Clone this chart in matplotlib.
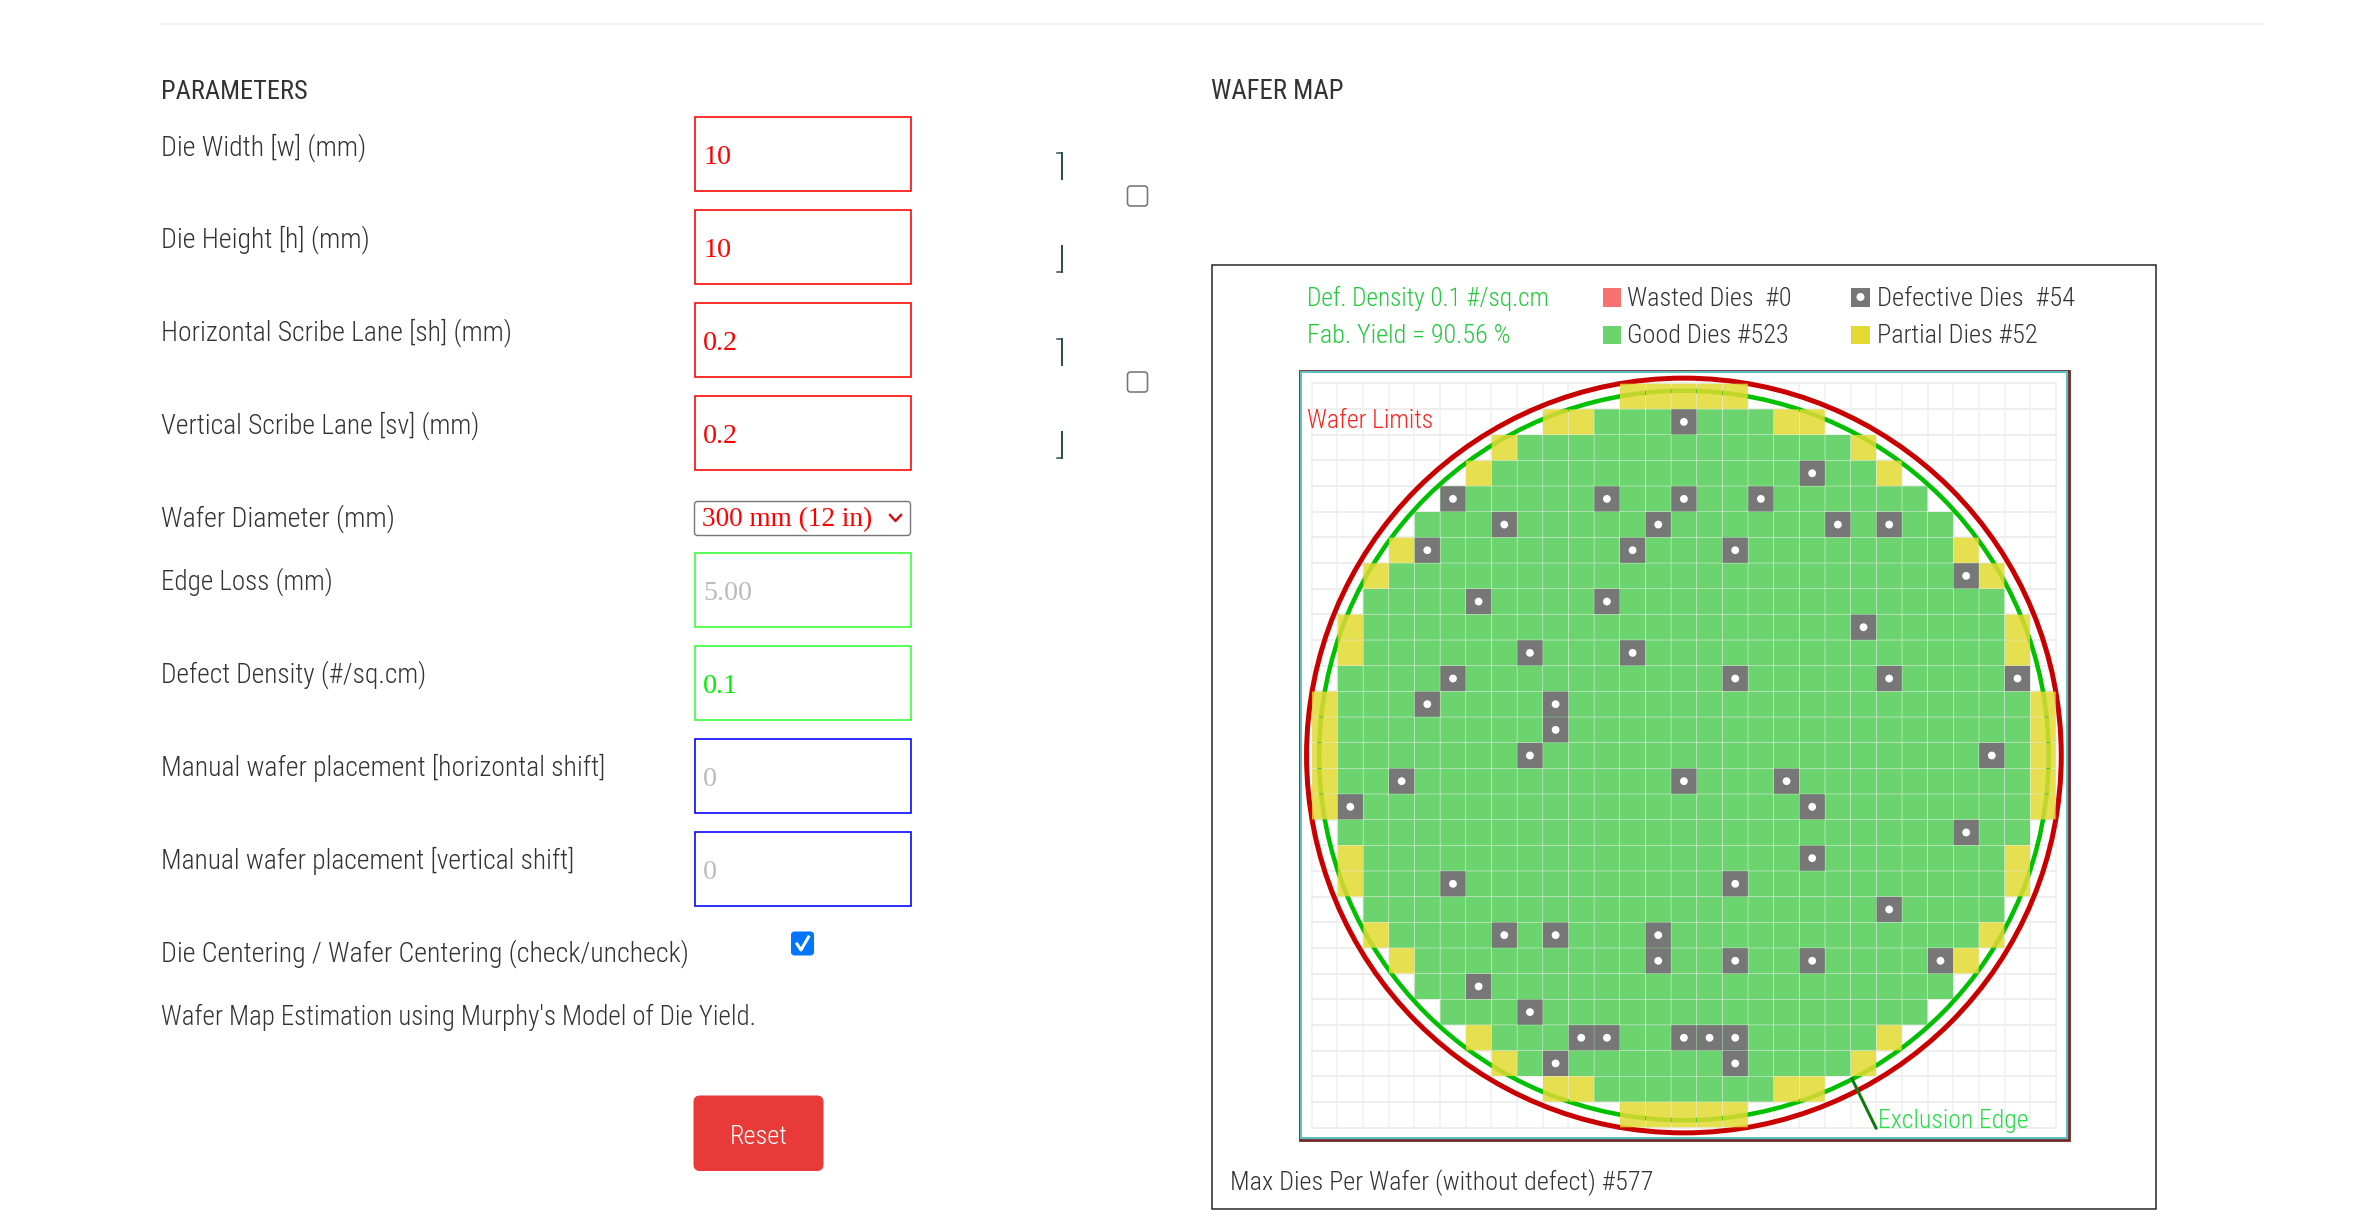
import matplotlib
matplotlib.use("Agg")
import matplotlib.pyplot as plt
from matplotlib.patches import Rectangle, Circle, FancyBboxPatch
from matplotlib.font_manager import fontManager

# ---- data ----
die_w = 10.0
die_h = 10.0
scribe = 0.2
wafer_d = 300
edge_loss = 5
pitch_x = die_w + scribe
pitch_y = die_h + scribe
n_grid = 29

good_first = [14, 11, 8, 7, 5, 4, 4, 3, 2, 2, 2, 1, 1, 1, 1, 1, 1, 1, 2, 2, 2, 3, 4, 4, 5, 7, 8, 11, 14]
good_last  = [13, 17, 20, 21, 23, 24, 24, 25, 26, 26, 26, 27, 27, 27, 27, 27, 27, 27, 26, 26, 26, 25, 24, 24, 23, 21, 20, 17, 13]
partial_rows = [0, 0, 0, 0, 0, 1, 1, 1, 1, 2, 2, 3, 3, 6, 6, 7, 7, 9, 9, 10, 10, 12, 12, 13, 13, 14, 14,
                15, 15, 16, 16, 18, 18, 19, 19, 21, 21, 22, 22, 25, 25, 26, 26, 27, 27, 27, 27, 28, 28, 28, 28, 28]
partial_cols = [12, 13, 14, 15, 16, 9, 10, 18, 19, 7, 21, 6, 22, 3, 25, 2, 26, 1, 27, 1, 27, 0, 28, 0, 28, 0, 28,
                0, 28, 0, 28, 1, 27, 1, 27, 2, 26, 3, 25, 6, 22, 7, 21, 9, 10, 18, 19, 12, 13, 14, 15, 16]
defect_rows = [1, 3, 4, 4, 4, 4, 5, 5, 5, 5, 6, 6, 6, 7, 8, 8, 9, 10, 10, 11, 11, 11, 11, 12, 12, 13, 14, 14,
               15, 15, 15, 16, 16, 17, 18, 19, 19, 20, 21, 21, 21, 22, 22, 22, 22, 23, 24, 25, 25, 25, 25, 25, 26, 26]
defect_cols = [14, 19, 5, 11, 14, 17, 7, 13, 20, 22, 4, 12, 16, 25, 6, 11, 21, 8, 12, 5, 16, 22, 27, 4, 9, 9, 8, 26,
               3, 14, 18, 1, 19, 25, 19, 5, 16, 22, 7, 9, 13, 13, 16, 19, 24, 6, 8, 10, 11, 14, 15, 16, 9, 16]

param_labels = ["Die Width [w] (mm)", "Die Height [h] (mm)", "Horizontal Scribe Lane [sh] (mm)",
                "Vertical Scribe Lane [sv] (mm)", "Wafer Diameter (mm)", "Edge Loss (mm)",
                "Defect Density (#/sq.cm)", "Manual wafer placement [horizontal shift]",
                "Manual wafer placement [vertical shift]", "Die Centering / Wafer Centering (check/uncheck)",
                "Wafer Map Estimation using Murphy's Model of Die Yield."]
label_widths = [206, 209, 351, 319, 234, 172, 266, 444, 414, 528, 597]
label_base = [155.5, 248, 341, 434, 527, 590, 683, 776, 869, 962, 1025]
input_values = ["10", "10", "0.2", "0.2", "5.00", "0.1", "0", "0"]
input_top = [117, 210, 303, 396, 553, 646, 739, 832]
input_edge = ["#ff0000"] * 4 + ["#33ff33"] * 2 + ["#0000ff"] * 2
input_color = ["#ff0000"] * 4 + ["#bbbbbb", "#00ee00", "#bbbbbb", "#bbbbbb"]

# ---- fonts ----
names = {f.name for f in fontManager.ttflist}
preferred = ["Roboto Condensed", "Open Sans Condensed", "Noto Sans Condensed", "Liberation Sans Narrow",
             "Lato", "Roboto"]
SANS = next(n for n in preferred + ["DejaVu Sans"] if n in names)
SERIF = "Liberation Serif"

W, H = 2354, 1217
PX = 0.72
fig = plt.figure(figsize=(W / 100, H / 100), dpi=100, facecolor="white")
page = fig.add_axes([0, 0, 1, 1])
page.set_xlim(0, W)
page.set_ylim(H, 0)
page.axis("off")


def fit(x, y, s, width, color="#333333", weight="light", ax=page, ha="left"):
    t = ax.text(x, y, s, color=color, family=SANS, weight=weight, fontsize=14, ha=ha, va="baseline", zorder=20)
    r = fig.canvas.get_renderer()
    t.set_fontsize(14 * width / t.get_window_extent(r).width)
    return t


def rbox(x0, y0, x1, y1, fc, ec, lw=1.0, rad=3):
    page.add_patch(FancyBboxPatch((x0 + rad, y0 + rad), x1 - x0 - 2 * rad, y1 - y0 - 2 * rad,
                                  boxstyle=f"round,pad={rad},rounding_size={rad}", fc=fc, ec=ec, lw=lw * PX))


# top rule and headings
page.plot([161, 2262], [24, 24], color="#eeeeee", lw=1.5 * PX)
fit(161, 99, "PARAMETERS", 147, color="#333333", weight="normal")
fit(1211, 99, "WAFER MAP", 133, color="#333333", weight="normal")

for s, w, y in zip(param_labels, label_widths, label_base):
    fit(161, y, s, w)

# inputs
for v, top, ec, c in zip(input_values, input_top, input_edge, input_color):
    page.add_patch(Rectangle((694.5, top), 216, 73.7, fc="white", ec=ec, lw=1.6 * PX))
    page.text(703, top + 47, v, color=c, family=SERIF, fontsize=28 * PX, va="baseline", ha="left")

# select
rbox(694.5, 501.5, 910.5, 535.5, "white", "#767676", 1.4, 3)
page.text(702, 526, "300 mm (12 in)", color="#ff0000", family=SERIF, fontsize=27.3 * PX, va="baseline", ha="left")
page.plot([890, 895.5, 901], [515, 521, 515], color="#d01010", lw=2.4 * PX)

# side brackets and checkboxes
bracket_top = [153, 246, 339, 432]
bracket_tick = [153, 271.5, 339, 457.5]
for t, k in zip(bracket_top, bracket_tick):
    page.plot([1061.5, 1061.5], [t, t + 25.7], color="#2f4f55", lw=2 * PX)
    page.plot([1057, 1061.5], [k, k], color="#2f4f55", lw=1.5 * PX)
for t in [186, 372]:
    rbox(1127.5, t, 1147.5, t + 20, "white", "#767676", 1.6, 3)

# checked checkbox
rbox(791.5, 932, 813.5, 955, "#0075ff", "#0075ff", 1, 3)
page.plot([797, 801, 808.5], [944, 950, 937], color="white", lw=3 * PX)

# reset
rbox(694, 1096, 823, 1170.5, "#e83a38", "#e83a38", 1, 6)
fit(759, 1144, "Reset", 58, color="white", ha="center")

# wafer panel frame
page.add_patch(Rectangle((1211.5, 264.5), 944, 944.8, fc="white", ec="#222222", lw=1.5 * PX))
fit(1307, 305.7, "Def. Density 0.1 #/sq.cm", 243, color="#22c83c")
fit(1307, 343, "Fab. Yield = 90.56 %", 203, color="#22c83c")
page.add_patch(Rectangle((1602.5, 288), 18.5, 18.5, fc="#f87171", ec="none"))
fit(1627, 305.7, "Wasted Dies  #0", 165)
page.add_patch(Rectangle((1851, 288), 19, 18.5, fc="#777777", ec="none"))
page.add_patch(Circle((1860.5, 297), 4, fc="white", ec="none"))
fit(1877, 305.7, "Defective Dies  #54", 197)
page.add_patch(Rectangle((1602.5, 325.5), 18.5, 18.5, fc="#6cd46f", ec="none"))
fit(1627, 343, "Good Dies #523", 162)
page.add_patch(Rectangle((1851, 325.5), 19, 18.5, fc="#e2da33", ec="none"))
fit(1877, 343, "Partial Dies #52", 161)
fit(1230, 1190, "Max Dies Per Wafer (without defect) #577", 424)

# wafer map axes: data in mm, centred on the wafer
FX0, FX1, FY0, FY1 = 1301.5, 2066.5, 372.5, 1138
CX, CY, SCALE = 1683.9, 755.5, 25.66 / pitch_x
page.add_patch(Rectangle((1299.5, 370.5), 769, 769.5, fc="white", ec="#6e2a2a", lw=2.8 * PX))
ax = fig.add_axes([FX0 / W, 1 - FY1 / H, (FX1 - FX0) / W, (FY1 - FY0) / H], facecolor="white", zorder=5)
ax.set_xlim((FX0 - CX) / SCALE, (FX1 - CX) / SCALE)
ax.set_ylim((FY1 - CY) / SCALE, (FY0 - CY) / SCALE)
ax.set_xticks([])
ax.set_yticks([])
for s in ax.spines.values():
    s.set_edgecolor("#5cc0c0")
    s.set_linewidth(2 * PX)

half = n_grid / 2
for i in range(n_grid + 1):
    p = i - half
    ax.plot([-half * pitch_x, half * pitch_x], [p * pitch_y, p * pitch_y], color="#eeeeee", lw=2 * PX, zorder=1)
    ax.plot([p * pitch_x, p * pitch_x], [-half * pitch_y, half * pitch_y], color="#f1f1f1", lw=1.6 * PX, zorder=1)

R = wafer_d / 2
ax.add_patch(Circle((0, 0), R, fc="none", ec="#c80000", lw=5 * PX, zorder=3))
ax.add_patch(Circle((0, 0), R - edge_loss, fc="none", ec="#00c000", lw=4.5 * PX, zorder=3))


def die(col, row, fc, alpha=1.0, z=4):
    x = (col - n_grid // 2) * pitch_x - die_w / 2
    y = (row - n_grid // 2) * pitch_y - die_h / 2
    ax.add_patch(Rectangle((x, y), die_w, die_h, fc=fc, ec="none", alpha=alpha, zorder=z, snap=False))


for r, (a, b) in enumerate(zip(good_first, good_last)):
    for c in range(a, b + 1):
        die(c, r, "#6cd46f")
for r, c in zip(partial_rows, partial_cols):
    die(c, r, "#e2da33", alpha=0.86, z=5)
for r, c in zip(defect_rows, defect_cols):
    die(c, r, "#777777", z=6)
    ax.add_patch(Circle(((c - n_grid // 2) * pitch_x, (r - n_grid // 2) * pitch_y), 1.55,
                        fc="white", ec="none", zorder=7))

# annotations above the wafer axes
ov = fig.add_axes([0, 0, 1, 1], facecolor="none", zorder=10)
ov.set_xlim(0, W)
ov.set_ylim(H, 0)
ov.axis("off")
fit(1307, 428, "Wafer Limits", 127, color="#ff2020", ax=ov)
fit(1877.5, 1128, "Exclusion Edge", 151, color="#22dd44", ax=ov)
ov.plot([1852, 1876], [1079, 1128], color="#0d7a0d", lw=3 * PX)

fig.savefig("out.png", dpi=100)
